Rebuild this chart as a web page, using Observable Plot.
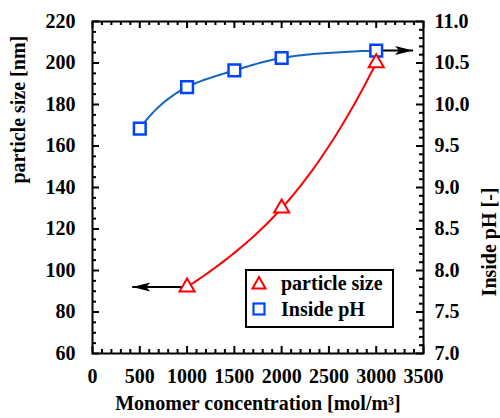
<!DOCTYPE html>
<html>
<head>
<meta charset="utf-8">
<script src="https://cdn.jsdelivr.net/npm/d3@7"></script>
<script src="https://cdn.jsdelivr.net/npm/@observablehq/plot@0.6"></script>
<style>
  html, body { margin: 0; padding: 0; background: white; }
  #wrap { position: relative; width: 500px; height: 418px; }
  #wrap svg text { font-weight: bold; }
  #legend {
    position: absolute; left: 245px; top: 269px; width: 149px; height: 59px;
    box-sizing: border-box; border: 2px solid black; background: white;
    font-family: "Liberation Serif", "Times New Roman", serif; font-weight: bold; font-size: 20px;
  }
  .row { position: absolute; left: 0; height: 20px; display: flex; align-items: center; white-space: nowrap; }
  .row svg { margin-left: 4px; margin-right: 14px; }
</style>
</head>
<body>
<div id="wrap">
  <div id="chart"></div>
  <div id="legend">
    <div class="row" style="top:2px">
      <svg width="16" height="16"><polygon points="8,2 14.5,13.5 1.5,13.5" fill="white" stroke="#ff0000" stroke-width="2"/></svg>
      <span>particle size</span>
    </div>
    <div class="row" style="top:28px">
      <svg width="16" height="16"><rect x="2.5" y="2.5" width="11" height="11" fill="white" stroke="#0044ff" stroke-width="2.2"/></svg>
      <span>Inside pH</span>
    </div>
  </div>
</div>
<script>
// ---- data ----
const sizeConc = [1000, 2000, 3000];
const particleSize = [92, 130, 200];
const phConc = [500, 1000, 1500, 2000, 3000];
const insidePH = [9.71, 10.21, 10.41, 10.56, 10.65];
const xTicks = [0, 500, 1000, 1500, 2000, 2500, 3000, 3500];
const sizeTicks = [60, 80, 100, 120, 140, 160, 180, 200, 220];
const phTicks = [7.0, 7.5, 8.0, 8.5, 9.0, 9.5, 10.0, 10.5, 11.0];
// arrows: [fromX, toX, value]
const sizeArrow = [1000, 420, 92];
const phArrow = [3000, 3390, 10.65];

// ---- mapping of the pH axis onto the left scale ----
const phToSize = v => 60 + (v - 7) * 40;

const sizeData = sizeConc.map((x, i) => ({x, y: particleSize[i]}));
const phData = phConc.map((x, i) => ({x, y: phToSize(insidePH[i])}));
const arrows = [
  {x1: sizeArrow[0], x2: sizeArrow[1], y: sizeArrow[2], dir: "left"},
  {x1: phArrow[0], x2: phArrow[1], y: phToSize(phArrow[2]), dir: "right"}
];

const W = 500, H = 418, mL = 92, mR = 77, mT = 21, mB = 65;
const innerW = W - mL - mR, innerH = H - mT - mB;
const xDomain = [0, 3500], yDomain = [60, 220];

const xMinor = d3.range(0, 3501, 100);
const sizeMinor = d3.range(60, 221, 5);
const phMinor = d3.range(60, 221, 4);

// smooth fitted-look curves: spline in a warped (log) space, drawn back in screen space
function warpedCurve(inner, toU, fromU, toV, fromV, steps = 24) {
  return context => {
    let pts = null;
    return {
      areaStart() {}, areaEnd() {},
      lineStart() { pts = []; },
      point(x, y) { pts.push([+x, +y]); },
      lineEnd() {
        let cu = 0, cv = 0;
        const out = (u, v, move) => move ? context.moveTo(fromU(u), fromV(v)) : context.lineTo(fromU(u), fromV(v));
        const proxy = {
          moveTo(u, v) { cu = u; cv = v; out(u, v, true); },
          lineTo(u, v) {
            for (let i = 1; i <= steps; i++) { const t = i / steps; out(cu + (u - cu) * t, cv + (v - cv) * t); }
            cu = u; cv = v;
          },
          bezierCurveTo(u1, v1, u2, v2, u, v) {
            for (let i = 1; i <= steps; i++) {
              const t = i / steps, m = 1 - t;
              out(m*m*m*cu + 3*m*m*t*u1 + 3*m*t*t*u2 + t*t*t*u,
                  m*m*m*cv + 3*m*m*t*v1 + 3*m*t*t*v2 + t*t*t*v);
            }
            cu = u; cv = v;
          },
          closePath() { context.closePath(); }
        };
        const c = inner(proxy);
        c.lineStart();
        for (const [x, y] of pts) c.point(toU(x), toV(y));
        c.lineEnd();
      }
    };
  };
}
const id = d => d;
const x0px = mL + innerW * (0 - xDomain[0]) / (xDomain[1] - xDomain[0]);
const y0px = mT + innerH * (yDomain[1] - 0) / (yDomain[1] - yDomain[0]);
const logXCurve = warpedCurve(d3.curveMonotoneX, x => Math.log(x - x0px), u => x0px + Math.exp(u), id, id);
const logYCurve = warpedCurve(d3.curveNatural, id, id, y => Math.log(y0px - y), v => y0px - Math.exp(v));

const headLeft = {draw(ctx) { ctx.moveTo(0, 0); ctx.lineTo(18, -4.5); ctx.lineTo(14, 0); ctx.lineTo(18, 4.5); ctx.closePath(); }};
const headRight = {draw(ctx) { ctx.moveTo(0, 0); ctx.lineTo(-18, -4.5); ctx.lineTo(-14, 0); ctx.lineTo(-18, 4.5); ctx.closePath(); }};

const FONT = '"Liberation Serif", "Times New Roman", serif';
const tickStyle = {stroke: "black", strokeWidth: 2};
const chart = Plot.plot({
  width: W, height: H,
  marginLeft: mL, marginRight: mR, marginTop: mT, marginBottom: mB,
  style: {fontFamily: FONT, fontSize: "20px", background: "white", color: "black"},
  x: {domain: xDomain},
  y: {domain: yDomain},
  marks: [
    // inward ticks
    Plot.tickX(xMinor.filter(v => v % 500 !== 0), {x: d => d, insetTop: innerH - 4, ...tickStyle}),
    Plot.tickX(xMinor.filter(v => v % 500 !== 0), {x: d => d, insetBottom: innerH - 4, ...tickStyle}),
    Plot.tickX(xTicks, {x: d => d, insetTop: innerH - 7, ...tickStyle}),
    Plot.tickX(xTicks, {x: d => d, insetBottom: innerH - 7, ...tickStyle}),
    Plot.tickY(sizeMinor.filter(v => v % 20 !== 0), {y: d => d, insetRight: innerW - 4, ...tickStyle}),
    Plot.tickY(sizeTicks, {y: d => d, insetRight: innerW - 7, ...tickStyle}),
    Plot.tickY(phMinor.filter(v => v % 20 !== 0), {y: d => d, insetLeft: innerW - 4, ...tickStyle}),
    Plot.tickY(phTicks.map(phToSize), {y: d => d, insetLeft: innerW - 7, ...tickStyle}),
    Plot.frame({stroke: "black", strokeWidth: 2}),
    // tick labels
    Plot.axisX({ticks: xTicks, tickSize: 0, tickPadding: 15, tickFormat: d => String(d), label: null, fontSize: 20}),
    Plot.axisY({ticks: sizeTicks, tickSize: 0, tickPadding: 17, tickFormat: d => String(d), label: null, fontSize: 20}),
    Plot.axisY({anchor: "right", ticks: phTicks.map(phToSize), tickSize: 0, tickPadding: 11,
      tickFormat: d => ((d - 60) / 40 + 7).toFixed(1), label: null, fontSize: 20}),
    // axis titles
    Plot.text(["Monomer concentration [mol/m³]"], {frameAnchor: "bottom", dy: 56, text: d => d, fontSize: 20}),
    Plot.text(["particle size [nm]"], {frameAnchor: "left", dx: -74, dy: -4, rotate: -90, text: d => d, fontSize: 20}),
    Plot.text(["Inside pH [-]"], {frameAnchor: "right", dx: 66, rotate: -90, text: d => d, fontSize: 20}),
    // arrows
    Plot.link(arrows, {x1: "x1", x2: "x2", y1: "y", y2: "y", stroke: "black", strokeWidth: 2}),
    Plot.dot(arrows.filter(d => d.dir === "left"), {x: "x2", y: "y", symbol: headLeft, fill: "black", stroke: "none"}),
    Plot.dot(arrows.filter(d => d.dir === "right"), {x: "x2", y: "y", symbol: headRight, fill: "black", stroke: "none"}),
    // curves
    Plot.line(phData, {x: "x", y: "y", curve: logXCurve, stroke: "#1565c0", strokeWidth: 2}),
    Plot.line(sizeData, {x: "x", y: "y", curve: logYCurve, stroke: "#ff0000", strokeWidth: 2}),
    // markers
    Plot.dot(phData, {x: "x", y: "y", symbol: "square", r: 6.6, fill: "white", stroke: "#0044ff", strokeWidth: 2.5}),
    Plot.dot(sizeData, {x: "x", y: "y", symbol: "triangle", r: 5.6, fill: "white", stroke: "#ff0000", strokeWidth: 2})
  ]
});
document.getElementById("chart").appendChild(chart);
</script>
</body>
</html>
